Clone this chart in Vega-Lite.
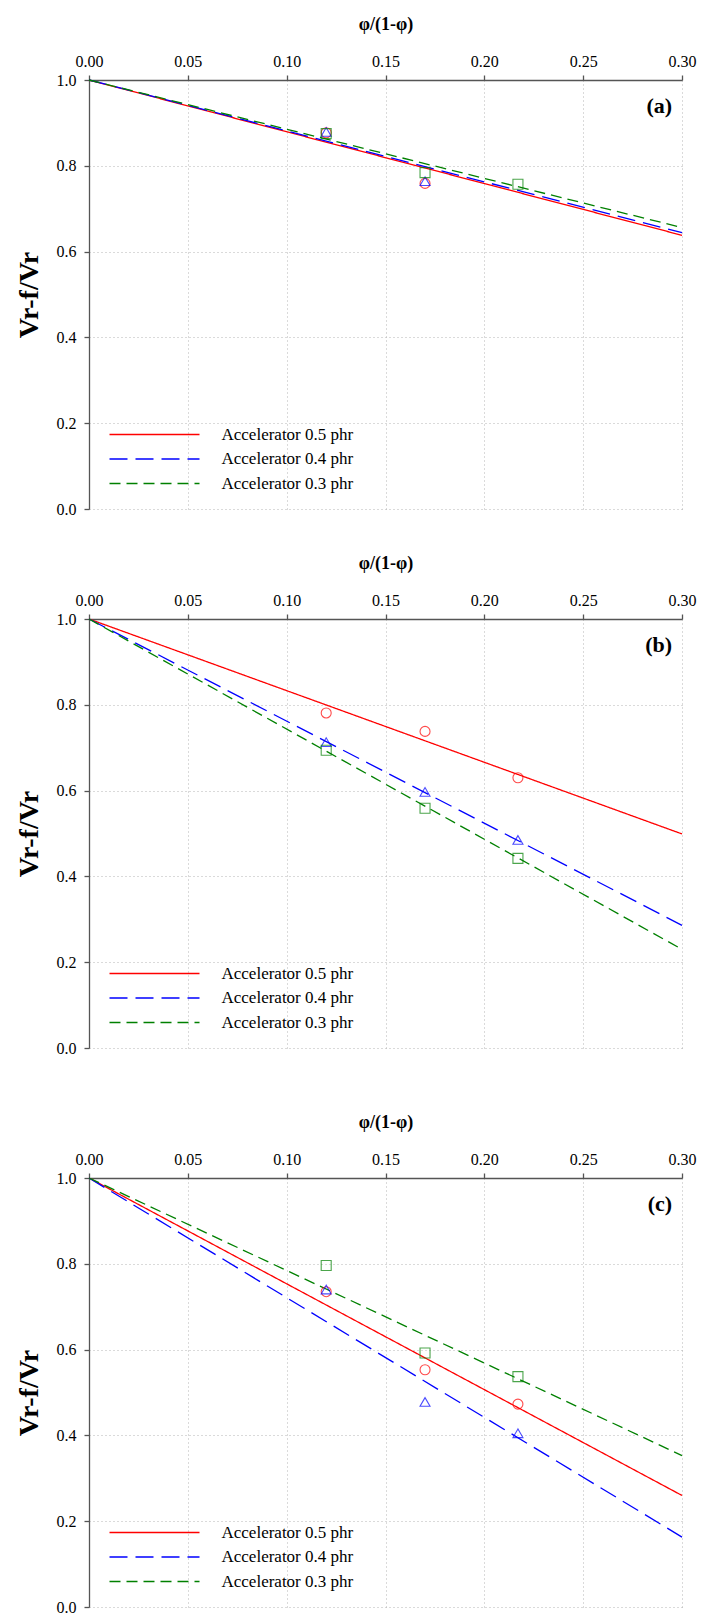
{
  "$schema": "https://vega.github.io/schema/vega-lite/v6.json",
  "padding": {"left": 15, "top": 15, "right": 2, "bottom": 0},
  "background": "white",
  "datasets": {
    "lines": [
      {"panel": "a", "series": "Accelerator 0.5 phr", "x": 0, "y": 1},
      {"panel": "a", "series": "Accelerator 0.5 phr", "x": 0.3, "y": 0.638},
      {"panel": "a", "series": "Accelerator 0.4 phr", "x": 0, "y": 1},
      {"panel": "a", "series": "Accelerator 0.4 phr", "x": 0.3, "y": 0.644},
      {"panel": "a", "series": "Accelerator 0.3 phr", "x": 0, "y": 1},
      {"panel": "a", "series": "Accelerator 0.3 phr", "x": 0.3, "y": 0.656},
      {"panel": "b", "series": "Accelerator 0.5 phr", "x": 0, "y": 1},
      {"panel": "b", "series": "Accelerator 0.5 phr", "x": 0.3, "y": 0.499},
      {"panel": "b", "series": "Accelerator 0.4 phr", "x": 0, "y": 1},
      {"panel": "b", "series": "Accelerator 0.4 phr", "x": 0.3, "y": 0.286},
      {"panel": "b", "series": "Accelerator 0.3 phr", "x": 0, "y": 1},
      {"panel": "b", "series": "Accelerator 0.3 phr", "x": 0.3, "y": 0.23},
      {"panel": "c", "series": "Accelerator 0.5 phr", "x": 0, "y": 1},
      {"panel": "c", "series": "Accelerator 0.5 phr", "x": 0.3, "y": 0.26},
      {"panel": "c", "series": "Accelerator 0.4 phr", "x": 0, "y": 1},
      {"panel": "c", "series": "Accelerator 0.4 phr", "x": 0.3, "y": 0.163},
      {"panel": "c", "series": "Accelerator 0.3 phr", "x": 0, "y": 1},
      {"panel": "c", "series": "Accelerator 0.3 phr", "x": 0.3, "y": 0.353}
    ],
    "points": [
      {"panel": "a", "acc": 0.5, "x": 0.12, "y": 0.877},
      {"panel": "a", "acc": 0.5, "x": 0.17, "y": 0.759},
      {"panel": "a", "acc": 0.4, "x": 0.12, "y": 0.879},
      {"panel": "a", "acc": 0.4, "x": 0.17, "y": 0.764},
      {"panel": "a", "acc": 0.3, "x": 0.12, "y": 0.875},
      {"panel": "a", "acc": 0.3, "x": 0.17, "y": 0.784},
      {"panel": "a", "acc": 0.3, "x": 0.217, "y": 0.757},
      {"panel": "b", "acc": 0.5, "x": 0.12, "y": 0.781},
      {"panel": "b", "acc": 0.5, "x": 0.17, "y": 0.738},
      {"panel": "b", "acc": 0.5, "x": 0.217, "y": 0.63},
      {"panel": "b", "acc": 0.4, "x": 0.12, "y": 0.713},
      {"panel": "b", "acc": 0.4, "x": 0.17, "y": 0.597},
      {"panel": "b", "acc": 0.4, "x": 0.217, "y": 0.485},
      {"panel": "b", "acc": 0.3, "x": 0.12, "y": 0.694},
      {"panel": "b", "acc": 0.3, "x": 0.17, "y": 0.559},
      {"panel": "b", "acc": 0.3, "x": 0.217, "y": 0.442},
      {"panel": "c", "acc": 0.5, "x": 0.12, "y": 0.735},
      {"panel": "c", "acc": 0.5, "x": 0.17, "y": 0.553},
      {"panel": "c", "acc": 0.5, "x": 0.217, "y": 0.473},
      {"panel": "c", "acc": 0.4, "x": 0.12, "y": 0.74},
      {"panel": "c", "acc": 0.4, "x": 0.17, "y": 0.478},
      {"panel": "c", "acc": 0.4, "x": 0.217, "y": 0.405},
      {"panel": "c", "acc": 0.3, "x": 0.12, "y": 0.796},
      {"panel": "c", "acc": 0.3, "x": 0.17, "y": 0.592},
      {"panel": "c", "acc": 0.3, "x": 0.217, "y": 0.537}
    ],
    "labels": [
      {"panel": "a", "label": "(a)"},
      {"panel": "b", "label": "(b)"},
      {"panel": "c", "label": "(c)"}
    ]
  },
  "vconcat": [
    {
      "vconcat": [
        {
          "width": 593, "height": 429,
          "layer": [
            {
              "data": {"name": "lines"},
              "transform": [{"filter": "datum.panel === 'a'"}],
              "mark": {"type": "line", "strokeWidth": 1.3},
              "encoding": {
                "x": {"field": "x", "type": "quantitative", "scale": {"domain": [0, 0.3], "nice": false}, "axis": {"orient": "top", "values": [0, 0.05, 0.1, 0.15, 0.2, 0.25, 0.3], "format": ".2f", "title": "φ/(1-φ)", "labelFlush": false, "labelPadding": 6, "titlePadding": 20}},
                "y": {"field": "y", "type": "quantitative", "scale": {"domain": [0, 1], "nice": false}, "axis": {"values": [0, 0.2, 0.4, 0.6, 0.8, 1], "format": ".1f", "title": "Vr-f/Vr", "titleFontSize": 28, "labelFlush": false, "labelPadding": 8, "titlePadding": 13}},
                "color": {"field": "series", "type": "nominal", "scale": {"domain": ["Accelerator 0.5 phr", "Accelerator 0.4 phr", "Accelerator 0.3 phr"], "range": ["#ff0000", "#0000ff", "#008000"]}, "legend": {"title": null}},
                "strokeDash": {"field": "series", "type": "nominal", "scale": {"domain": ["Accelerator 0.5 phr", "Accelerator 0.4 phr", "Accelerator 0.3 phr"], "range": [[1, 0], [18, 8], [11, 6]]}, "legend": {"title": null}}
              }
            },
            {
              "data": {"name": "points"},
              "transform": [{"filter": "datum.panel === 'a' && datum.acc === 0.5"}],
              "mark": {"type": "point", "shape": "circle", "filled": false, "size": 100, "strokeWidth": 1.1, "color": "#ff0000"},
              "encoding": {"x": {"field": "x", "type": "quantitative"}, "y": {"field": "y", "type": "quantitative"}}
            },
            {
              "data": {"name": "points"},
              "transform": [{"filter": "datum.panel === 'a' && datum.acc === 0.4"}],
              "mark": {"type": "point", "shape": "triangle-up", "filled": false, "size": 100, "strokeWidth": 1.1, "color": "#0000ff"},
              "encoding": {"x": {"field": "x", "type": "quantitative"}, "y": {"field": "y", "type": "quantitative"}}
            },
            {
              "data": {"name": "points"},
              "transform": [{"filter": "datum.panel === 'a' && datum.acc === 0.3"}],
              "mark": {"type": "point", "shape": "square", "filled": false, "size": 100, "strokeWidth": 1.1, "color": "#008000"},
              "encoding": {"x": {"field": "x", "type": "quantitative"}, "y": {"field": "y", "type": "quantitative"}}
            },
            {
              "data": {"name": "labels"},
              "transform": [{"filter": "datum.panel === 'a'"}],
              "mark": {"type": "text", "align": "right", "baseline": "middle", "font": "Liberation Serif", "fontSize": 22, "fontWeight": "bold"},
              "encoding": {
                "x": {"datum": 0.295, "type": "quantitative"},
                "y": {"datum": 0.94, "type": "quantitative"},
                "text": {"field": "label"}
              }
            }
          ]
        },
        {
          "width": 593, "height": 429,
          "layer": [
            {
              "data": {"name": "lines"},
              "transform": [{"filter": "datum.panel === 'b'"}],
              "mark": {"type": "line", "strokeWidth": 1.3},
              "encoding": {
                "x": {"field": "x", "type": "quantitative", "scale": {"domain": [0, 0.3], "nice": false}, "axis": {"orient": "top", "values": [0, 0.05, 0.1, 0.15, 0.2, 0.25, 0.3], "format": ".2f", "title": "φ/(1-φ)", "labelFlush": false, "labelPadding": 6, "titlePadding": 20}},
                "y": {"field": "y", "type": "quantitative", "scale": {"domain": [0, 1], "nice": false}, "axis": {"values": [0, 0.2, 0.4, 0.6, 0.8, 1], "format": ".1f", "title": "Vr-f/Vr", "titleFontSize": 28, "labelFlush": false, "labelPadding": 8, "titlePadding": 13}},
                "color": {"field": "series", "type": "nominal", "scale": {"domain": ["Accelerator 0.5 phr", "Accelerator 0.4 phr", "Accelerator 0.3 phr"], "range": ["#ff0000", "#0000ff", "#008000"]}, "legend": {"title": null}},
                "strokeDash": {"field": "series", "type": "nominal", "scale": {"domain": ["Accelerator 0.5 phr", "Accelerator 0.4 phr", "Accelerator 0.3 phr"], "range": [[1, 0], [18, 8], [11, 6]]}, "legend": {"title": null}}
              }
            },
            {
              "data": {"name": "points"},
              "transform": [{"filter": "datum.panel === 'b' && datum.acc === 0.5"}],
              "mark": {"type": "point", "shape": "circle", "filled": false, "size": 100, "strokeWidth": 1.1, "color": "#ff0000"},
              "encoding": {"x": {"field": "x", "type": "quantitative"}, "y": {"field": "y", "type": "quantitative"}}
            },
            {
              "data": {"name": "points"},
              "transform": [{"filter": "datum.panel === 'b' && datum.acc === 0.4"}],
              "mark": {"type": "point", "shape": "triangle-up", "filled": false, "size": 100, "strokeWidth": 1.1, "color": "#0000ff"},
              "encoding": {"x": {"field": "x", "type": "quantitative"}, "y": {"field": "y", "type": "quantitative"}}
            },
            {
              "data": {"name": "points"},
              "transform": [{"filter": "datum.panel === 'b' && datum.acc === 0.3"}],
              "mark": {"type": "point", "shape": "square", "filled": false, "size": 100, "strokeWidth": 1.1, "color": "#008000"},
              "encoding": {"x": {"field": "x", "type": "quantitative"}, "y": {"field": "y", "type": "quantitative"}}
            },
            {
              "data": {"name": "labels"},
              "transform": [{"filter": "datum.panel === 'b'"}],
              "mark": {"type": "text", "align": "right", "baseline": "middle", "font": "Liberation Serif", "fontSize": 22, "fontWeight": "bold"},
              "encoding": {
                "x": {"datum": 0.295, "type": "quantitative"},
                "y": {"datum": 0.94, "type": "quantitative"},
                "text": {"field": "label"}
              }
            }
          ]
        }
      ],
      "spacing": 37,
      "resolve": {
        "scale": {"x": "independent", "y": "independent", "color": "independent", "strokeDash": "independent"},
        "legend": {"color": "independent", "strokeDash": "independent"}
      }
    },
    {
      "width": 593, "height": 429,
      "layer": [
        {
          "data": {"name": "lines"},
          "transform": [{"filter": "datum.panel === 'c'"}],
          "mark": {"type": "line", "strokeWidth": 1.3},
          "encoding": {
            "x": {"field": "x", "type": "quantitative", "scale": {"domain": [0, 0.3], "nice": false}, "axis": {"orient": "top", "values": [0, 0.05, 0.1, 0.15, 0.2, 0.25, 0.3], "format": ".2f", "title": "φ/(1-φ)", "labelFlush": false, "labelPadding": 6, "titlePadding": 20}},
            "y": {"field": "y", "type": "quantitative", "scale": {"domain": [0, 1], "nice": false}, "axis": {"values": [0, 0.2, 0.4, 0.6, 0.8, 1], "format": ".1f", "title": "Vr-f/Vr", "titleFontSize": 28, "labelFlush": false, "labelPadding": 8, "titlePadding": 13}},
            "color": {"field": "series", "type": "nominal", "scale": {"domain": ["Accelerator 0.5 phr", "Accelerator 0.4 phr", "Accelerator 0.3 phr"], "range": ["#ff0000", "#0000ff", "#008000"]}, "legend": {"title": null}},
            "strokeDash": {"field": "series", "type": "nominal", "scale": {"domain": ["Accelerator 0.5 phr", "Accelerator 0.4 phr", "Accelerator 0.3 phr"], "range": [[1, 0], [18, 8], [11, 6]]}, "legend": {"title": null}}
          }
        },
        {
          "data": {"name": "points"},
          "transform": [{"filter": "datum.panel === 'c' && datum.acc === 0.5"}],
          "mark": {"type": "point", "shape": "circle", "filled": false, "size": 100, "strokeWidth": 1.1, "color": "#ff0000"},
          "encoding": {"x": {"field": "x", "type": "quantitative"}, "y": {"field": "y", "type": "quantitative"}}
        },
        {
          "data": {"name": "points"},
          "transform": [{"filter": "datum.panel === 'c' && datum.acc === 0.4"}],
          "mark": {"type": "point", "shape": "triangle-up", "filled": false, "size": 100, "strokeWidth": 1.1, "color": "#0000ff"},
          "encoding": {"x": {"field": "x", "type": "quantitative"}, "y": {"field": "y", "type": "quantitative"}}
        },
        {
          "data": {"name": "points"},
          "transform": [{"filter": "datum.panel === 'c' && datum.acc === 0.3"}],
          "mark": {"type": "point", "shape": "square", "filled": false, "size": 100, "strokeWidth": 1.1, "color": "#008000"},
          "encoding": {"x": {"field": "x", "type": "quantitative"}, "y": {"field": "y", "type": "quantitative"}}
        },
        {
          "data": {"name": "labels"},
          "transform": [{"filter": "datum.panel === 'c'"}],
          "mark": {"type": "text", "align": "right", "baseline": "middle", "font": "Liberation Serif", "fontSize": 22, "fontWeight": "bold"},
          "encoding": {
            "x": {"datum": 0.295, "type": "quantitative"},
            "y": {"datum": 0.94, "type": "quantitative"},
            "text": {"field": "label"}
          }
        }
      ]
    }
  ],
  "spacing": 57,
  "resolve": {
    "scale": {"x": "independent", "y": "independent", "color": "independent", "strokeDash": "independent"},
    "legend": {"color": "independent", "strokeDash": "independent"}
  },
  "config": {
    "font": "Liberation Serif",
    "view": {"stroke": null},
    "axis": {
      "labelFont": "Liberation Serif", "labelFontSize": 16, "labelColor": "#000",
      "titleFont": "Liberation Serif", "titleFontSize": 18, "titleFontWeight": "bold", "titleColor": "#000",
      "grid": true, "gridColor": "#b4b4b4", "gridDash": [1, 3], "gridWidth": 1,
      "domainColor": "#555", "domainWidth": 1.3, "tickColor": "#555", "tickSize": 5, "tickWidth": 1.3
    },
    "legend": {
      "orient": "bottom-left", "offset": 17.5, "padding": 0,
      "symbolType": "M-1.2,0H16.8", "symbolSize": 100, "symbolStrokeWidth": 1.3, "symbolFillColor": "transparent",
      "labelFont": "Liberation Serif", "labelFontSize": 17, "labelColor": "#000", "labelOffset": 97.5,
      "rowPadding": 6.5, "labelLimit": 300
    }
  }
}
